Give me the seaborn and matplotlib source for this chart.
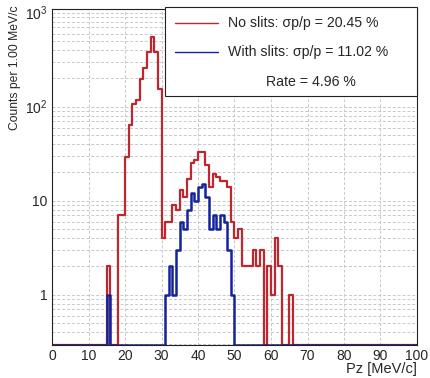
import numpy as np
import pandas as pd
import matplotlib
matplotlib.use("Agg")
import matplotlib.pyplot as plt
import seaborn as sns
from matplotlib.ticker import MultipleLocator, LogLocator, NullFormatter, FixedLocator, FixedFormatter
from matplotlib.lines import Line2D
from matplotlib.patches import Rectangle

# histogram contents, 1 MeV/c bins from 0 to 100
n_bins = 100

# no slits: bins 15..65
no_slits_start = 15
no_slits_counts = [2, 0, 0, 7, 7, 29, 64, 106, 118, 195,
                   260, 385, 547, 385, 153, 4, 6, 6, 9, 8,
                   13, 11, 17, 25, 27, 33, 33, 24, 14, 19,
                   18, 16, 16, 14, 6, 4, 5, 2, 2, 2,
                   3, 2, 3, 0, 2, 1, 4, 2, 0, 0, 1]

# with slits: bins 15..49
with_slits_start = 15
with_slits_counts = [1, 0, 0, 0, 0, 0, 0, 0, 0, 0,
                     0, 0, 0, 0, 0, 0, 1, 2, 1, 3,
                     6, 5, 8, 12, 10, 14, 15, 11, 5, 7,
                     5, 7, 6, 3, 1]

legend_labels = ["No slits: σp/p = 20.45 %", "With slits: σp/p = 11.02 %"]
rate_label = "Rate = 4.96 %"

x_ticks = list(range(0, 101, 10))
y_ticks = [1, 10, 100, 1000]
y_tick_labels = ["1", "10", r"$\mathregular{10^{2}}$", r"$\mathregular{10^{3}}$"]

y_min, y_max = 0.2917, 1094

red = "#c0262e"
blue = "#13239a"


def hist_frame(start, counts):
    h = np.zeros(n_bins)
    h[start:start + len(counts)] = counts
    # empty bins sit on the bottom frame, like ROOT does on log axes
    w = np.where(h > 0, h, y_min)
    return pd.DataFrame({"pz": np.arange(n_bins) + 0.5, "w": w})


sns.set_style("white")
plt.rcParams["font.family"] = ["Liberation Sans", "DejaVu Sans"]
plt.rcParams["mathtext.fontset"] = "custom"
plt.rcParams["mathtext.rm"] = "Liberation Sans"

W, H = 430, 378
fig = plt.figure(figsize=(W / 100, H / 100), dpi=100)
L, R, T, B = 52, 417, 9, 345
ax = fig.add_axes([L / W, 1 - B / H, (R - L) / W, (B - T) / H])

sns.histplot(data=hist_frame(no_slits_start, no_slits_counts), x="pz", weights="w",
             binwidth=1, binrange=(0, n_bins), element="step", fill=False,
             color=red, linewidth=1.6, ax=ax)
sns.histplot(data=hist_frame(with_slits_start, with_slits_counts), x="pz", weights="w",
             binwidth=1, binrange=(0, n_bins), element="step", fill=False,
             color=blue, linewidth=1.8, ax=ax)

ax.set_yscale("log")
ax.set_xlim(0, 100)
ax.set_ylim(y_min, y_max)

ax.xaxis.set_major_locator(FixedLocator(x_ticks))
ax.xaxis.set_minor_locator(MultipleLocator(2))
ax.yaxis.set_major_locator(FixedLocator(y_ticks))
ax.yaxis.set_major_formatter(FixedFormatter(y_tick_labels))
ax.yaxis.set_minor_locator(LogLocator(base=10, subs=np.arange(2, 10)))
ax.yaxis.set_minor_formatter(NullFormatter())

ax.tick_params(which="major", direction="in", length=9, width=0.8, color="#444444",
               labelsize=10, pad=3)
ax.tick_params(which="minor", direction="in", length=4.5, width=0.8, color="#444444")
ax.tick_params(top=False, right=False)

ax.grid(True, which="major", axis="x", ls=(0, (3, 2)), color="#c8c8c8", lw=0.7)
ax.grid(True, which="both", axis="y", ls=(0, (3, 2)), color="#c8c8c8", lw=0.7)
ax.set_axisbelow(True)
for s in ax.spines.values():
    s.set_color("#222222")
    s.set_linewidth(0.8)

ax.set_xlabel("Pz [MeV/c]", fontsize=10.5, loc="right", labelpad=-1)
ax.set_ylabel("Counts per 1.00 MeV/c", fontsize=8.7, loc="top")
ax.yaxis.set_label_coords(-(L - 21) / (R - L), 1 + 4 / (B - T))

# legend box (TLegend style)
lx0, lx1, ly0, ly1 = 165, 417, 7, 96
fig.patches.append(Rectangle((lx0 / W, 1 - ly1 / H), (lx1 - lx0) / W, (ly1 - ly0) / H,
                             transform=fig.transFigure, facecolor="white",
                             edgecolor="#222222", linewidth=0.8, zorder=5))
rows = [23, 52]
for yrow, col, lab in zip(rows, [red, blue], legend_labels):
    fig.lines.append(Line2D([175 / W, 218 / W], [1 - yrow / H, 1 - yrow / H],
                            transform=fig.transFigure, color=col, lw=1.0, zorder=6))
    fig.text(228 / W, 1 - yrow / H, lab, fontsize=10.2, va="center", ha="left", zorder=6)
fig.text(266 / W, 1 - 82 / H, rate_label, fontsize=10.2, va="center", ha="left", zorder=6)

fig.savefig("out.png", dpi=100)
